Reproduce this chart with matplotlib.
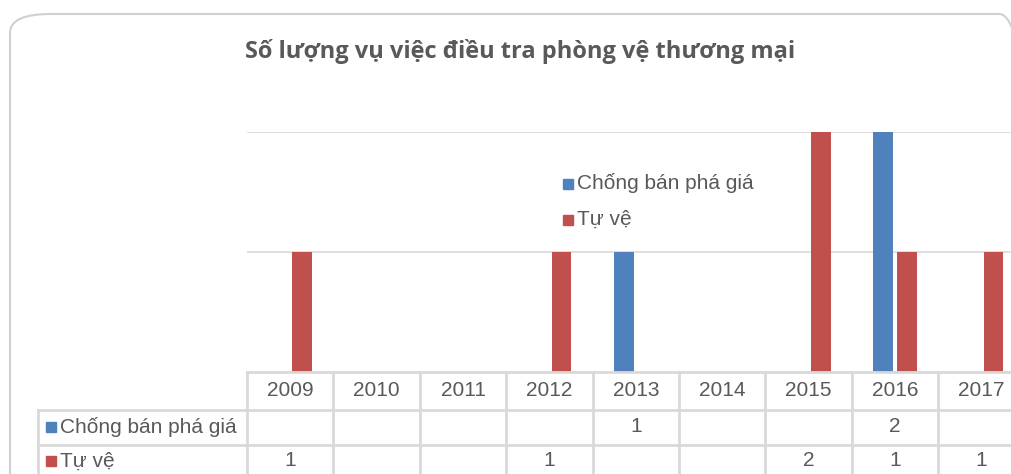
import matplotlib
matplotlib.use("Agg")
from matplotlib import pyplot as plt
from matplotlib.patches import Rectangle, FancyBboxPatch
from matplotlib.transforms import blended_transform_factory

years = ["2009", "2010", "2011", "2012", "2013", "2014", "2015", "2016", "2017"]
series_names = ["Chống bán phá giá", "Tự vệ"]
chong_ban_pha_gia = [0, 0, 0, 0, 1, 0, 0, 2, 0]
tu_ve = [1, 0, 0, 1, 0, 0, 2, 1, 1]
colors = ["#4F81BD", "#C0504D"]
title = "Số lượng vụ việc điều tra phòng vệ thương mại"

W, H = 1012, 474
GRID = "#D9D9D9"
TXT = "#595959"
FS = 15
plt.rcParams['font.family'] = ['Liberation Sans', 'DejaVu Sans']

fig = plt.figure(figsize=(W / 100, H / 100), dpi=100)

def fy(py):
    return 1 - py / H

# outer chart border (rounded, runs off the right / bottom)
box = FancyBboxPatch((10 / W, fy(520)), 1030 / W, 506 / H,
                     boxstyle="round,pad=0,rounding_size=0.04",
                     transform=fig.transFigure, fill=False,
                     edgecolor="#D0D0D0", lw=1.5)
fig.patches.append(box)

col_w = 86.4
ax = fig.add_axes([247 / W, fy(372), 9 * col_w / W, (372 - 132) / H])
ax.set_xlim(-0.5, 8.5)
ax.set_ylim(0, 2)
for s in ax.spines.values():
    s.set_visible(False)
ax.set_xticks([])
ax.set_yticks([1, 2])
ax.set_yticklabels([])
ax.tick_params(axis="y", length=0)
ax.yaxis.grid(True, color=GRID, lw=1.2)
ax.set_axisbelow(True)

x = list(range(len(years)))
bw = 0.23
off = 0.14
data = [chong_ban_pha_gia, tu_ve]
for i, vals in enumerate(data):
    xs = [xi + (off if i else -off) for xi in x]
    ax.bar(xs, vals, width=bw, color=colors[i], label=series_names[i])

# legend inside plot area
leg_y = [183, 219]
for i, name in enumerate(series_names):
    cy = leg_y[i]
    fig.patches.append(Rectangle((563 / W, fy(cy + 6)), 10 / W, 10 / H,
                                 transform=fig.transFigure, color=colors[i]))
    fig.text(577 / W, fy(cy), name, ha="left", va="center", fontsize=FS, color=TXT)

fig.text(520 / W, fy(52), title, ha="center", va="center",
         fontsize=17, fontweight="bold", color=TXT, family=['Open Sans', 'DejaVu Sans'])

# data table below the plot
tr = blended_transform_factory(ax.transData, fig.transFigure)
row_y = [372, 410, 445]
y_bot = 480
lw = 2
# vertical lines
for k in range(len(years) + 1):
    xv = -0.5 + k
    ax.plot([xv, xv], [fy(372), fy(y_bot)], color=GRID, lw=lw, transform=tr, clip_on=False)
fig.add_artist(plt.Line2D([38 / W, 38 / W], [fy(410), fy(y_bot)], color=GRID, lw=lw))
# horizontal lines
ax.plot([-0.5, 9], [fy(372), fy(372)], color=GRID, lw=lw, transform=tr, clip_on=False)
for ry in row_y[1:]:
    fig.add_artist(plt.Line2D([38 / W, 1], [fy(ry), fy(ry)], color=GRID, lw=lw))

for xi, yr in zip(x, years):
    ax.text(xi, fy(391), yr, transform=tr, ha="center", va="center", fontsize=FS, color=TXT)

row_centers = [427, 461]
for i, vals in enumerate(data):
    cy = row_centers[i]
    fig.patches.append(Rectangle((46 / W, fy(cy + 5)), 10 / W, 10 / H,
                                 transform=fig.transFigure, color=colors[i]))
    fig.text(60 / W, fy(cy), series_names[i], ha="left", va="center", fontsize=FS, color=TXT)
    for xi, v in zip(x, vals):
        if v:
            ax.text(xi, fy(cy), str(v), transform=tr, ha="center", va="center",
                    fontsize=FS, color=TXT)

fig.savefig("out.png", dpi=100)
